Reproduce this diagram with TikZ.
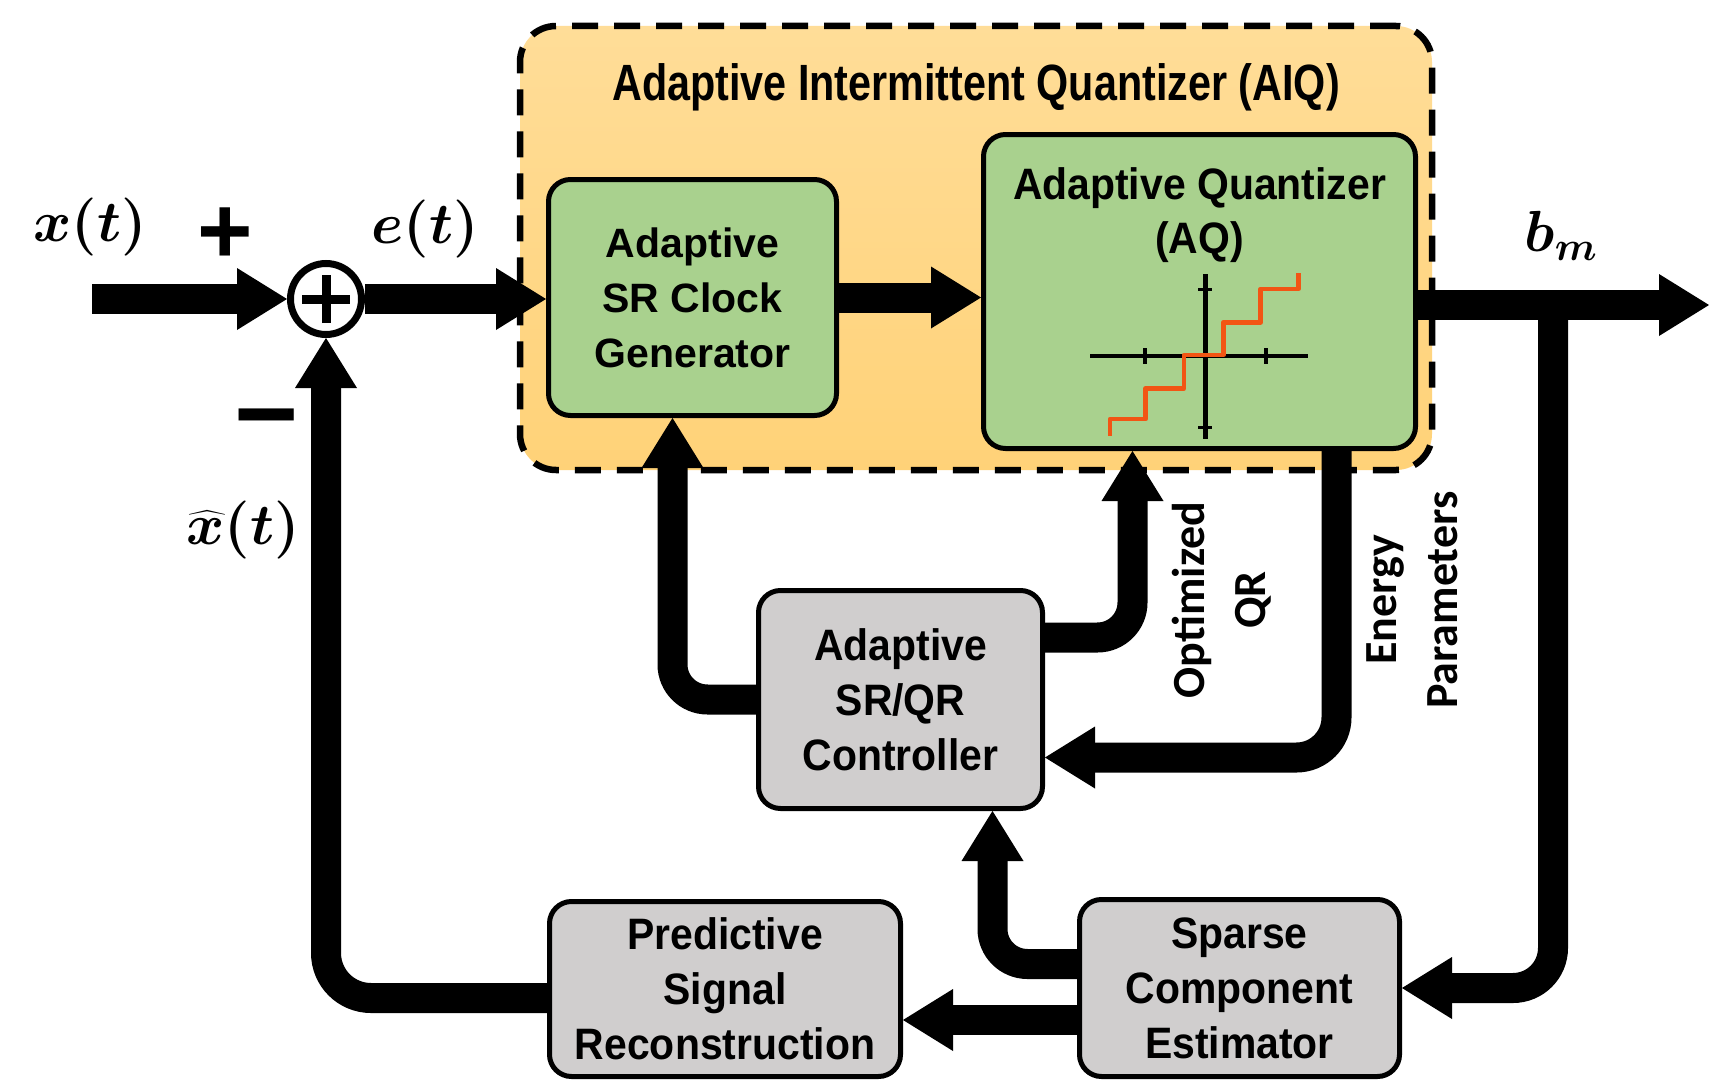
\RequirePackage{fix-cm}
\documentclass[tikz,border=0pt]{standalone}
\usepackage{fontspec}
\usepackage{amsmath}
\usepackage{bm}
\usetikzlibrary{arrows.meta,calc}
\setmainfont{Liberation Sans}
\newfontfamily\boxfont{Liberation Sans}[FakeStretch=0.93]
\newfontfamily\titlefont{Liberation Sans}[FakeStretch=0.81]
\newfontfamily\lblfont{Carlito}
\definecolor{aiqorange}{RGB}{255,216,140}
\definecolor{aqgreen}{RGB}{169,209,142}
\definecolor{ctrlgray}{RGB}{208,206,206}
\definecolor{stairred}{RGB}{242,85,20}
\begin{document}
\begin{tikzpicture}[x=1pt,y=-1pt,
  blockbox/.style={draw=black, line width=5pt, rounded corners=22pt, inner sep=0pt, align=center},
  greenbox/.style={blockbox, fill=aqgreen},
  graybox/.style={blockbox, fill=ctrlgray, font=\boxfont\bfseries\fontsize{44}{55}\selectfont},
  bigarrow/.style={line width=30pt, -{Triangle[width=62pt,length=50pt,line width=0pt]}},
  mathlbl/.style={inner sep=0pt, font=\fontsize{58}{60}\selectfont},
  sidelbl/.style={rotate=90, align=center, inner sep=0pt, font=\lblfont\bfseries\fontsize{46}{61}\selectfont}
]
\useasboundingbox (0,0) rectangle (1709,1081);
\fill[white] (0,0) rectangle (1709,1081);

% container
\node[draw=black, line width=6.5pt, dash pattern=on 26pt off 16pt, rounded corners=36pt,
      top color={rgb,255:red,255;green,221;blue,152}, bottom color={rgb,255:red,255;green,210;blue,120},
      minimum width=912pt, minimum height=444pt, inner sep=0pt] (aiq) at (976,248) {};
\node[anchor=base, inner sep=0pt, font=\titlefont\bfseries\fontsize{51}{55}\selectfont] (aiqtitle) at (976,100) {Adaptive Intermittent Quantizer (AIQ)};

% blocks
\node[greenbox, minimum width=288pt, minimum height=236pt, font=\bfseries\fontsize{41}{55}\selectfont] (sr) at (692.5,297.5) {Adaptive\\SR Clock\\Generator};
\node[greenbox, minimum width=432pt, minimum height=314pt] (aq) at (1199.5,291.5) {};
\node[anchor=north, align=center, inner sep=0pt, font=\boxfont\bfseries\fontsize{44}{54}\selectfont] (aqtext) at (1199.5,167) {Adaptive Quantizer\\(AQ)};
\node[graybox, minimum width=284pt, minimum height=218pt] (ctrl) at (900.5,699.5) {Adaptive\\SR/QR\\Controller};
\node[graybox, minimum width=351pt, minimum height=175pt] (pred) at (725,989) {Predictive\\Signal\\Reconstruction};
\node[graybox, minimum width=320pt, minimum height=177pt] (sparse) at (1239.5,988) {Sparse\\Component\\Estimator};

% quantizer characteristic
\draw[line width=3.5pt] (1090,356) -- (1308,356);
\draw[line width=3.5pt] (1145,348) -- (1145,364) (1266,348) -- (1266,364);
\draw[line width=5pt] (1205,274) -- (1205,439);
\draw[line width=3pt] (1198,289) -- (1212,289) (1198,427) -- (1212,427);
\draw[stairred, line width=4.5pt, line join=round]
  (1110,436) -- (1110,419) -- (1145.7,419) -- (1145.7,388.3) -- (1184,388.3) -- (1184,355)
  -- (1223.3,355) -- (1223.3,322.3) -- (1260.7,322.3) -- (1260.7,289) -- (1298.3,289) -- (1298.3,273);

% summing junction
\node[circle, draw=black, line width=7pt, fill=white, minimum size=71pt, inner sep=0pt,
      path picture={\draw[line width=9pt] ([xshift=-24pt]path picture bounding box.center) -- ([xshift=24pt]path picture bounding box.center);
                    \draw[line width=9pt] ([yshift=-24pt]path picture bounding box.center) -- ([yshift=24pt]path picture bounding box.center);}] (sum) at (326,299) {};

% labels
\node[mathlbl] (xlbl) at (90,227) {$\bm{x(t)}$};
\node[mathlbl] (elbl) at (425,229) {$\bm{e(t)}$};
\node[mathlbl] (blbl) at (1561,236) {$\bm{b_m}$};
\node[mathlbl] (xhatlbl) at (243,530) {$\bm{\widehat{x}(t)}$};
\node[inner sep=0pt, font=\bfseries\fontsize{95}{95}\selectfont] (pluslbl) at (225,236) {+};
\node[anchor=base, inner sep=0pt, font=\bfseries\fontsize{110}{110}\selectfont] (minuslbl) at (267,451) {−};
\node[sidelbl] (oqr) at (1222,600) {Optimized\\QR};
\node[sidelbl] (epar) at (1412,600) {Energy\\Parameters};

% connectors
\coordinate (inL) at (92,299);
\coordinate (out) at (1709,305);
\coordinate (br) at (1553,305);
\draw[bigarrow] (inL) -- (sum.west);
\draw[bigarrow] (sum.east) -- (sr.west |- sum.east);
\draw[bigarrow] (sr.east) -- (aq.west |- sr.east);
\draw[bigarrow] (aq.east |- out) -- (out);
\draw[bigarrow, rounded corners=40pt] (br) |- (sparse.east);
\draw[bigarrow] ([yshift=-32pt]sparse.west) -- ([yshift=-32pt]sparse.west -| pred.east);
\draw[bigarrow, rounded corners=35pt] ([yshift=24pt]sparse.west) -| ([xshift=92pt]ctrl.south);
\draw[bigarrow, rounded corners=35pt] (ctrl.west) -| ([xshift=-20pt]sr.south);
\draw[bigarrow, rounded corners=35pt] ([yshift=62pt]ctrl.east) -| ([xshift=-67pt]aq.south);
\draw[bigarrow, rounded corners=40pt] ([xshift=137pt]aq.south) |- ([yshift=-58pt]ctrl.east);
\draw[bigarrow, rounded corners=45pt] ([yshift=-9pt]pred.west) -| (sum.south);
\end{tikzpicture}
\end{document}
